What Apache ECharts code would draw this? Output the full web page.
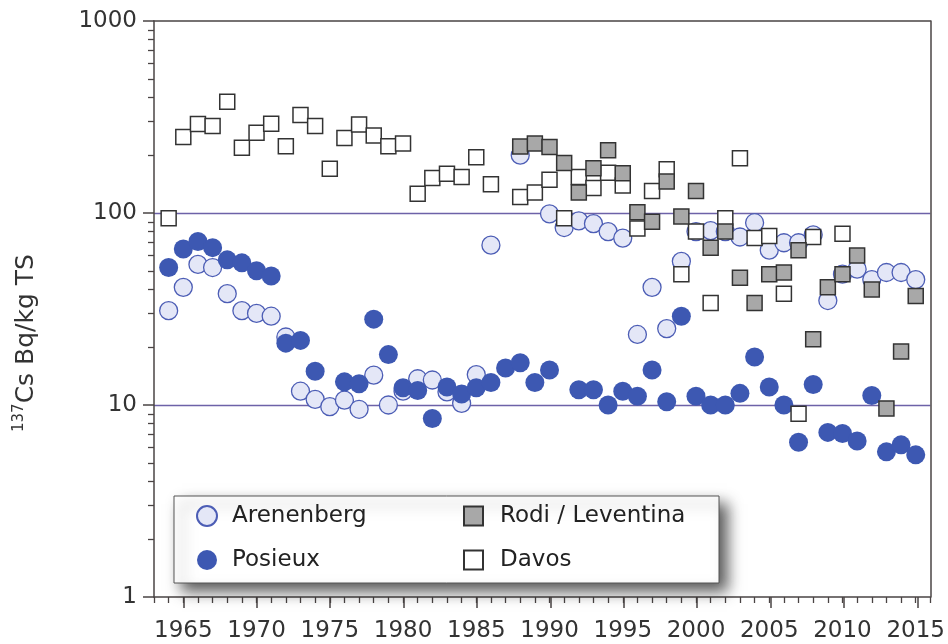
<!DOCTYPE html>
<html><head><meta charset="utf-8">
<script src="https://cdn.jsdelivr.net/npm/echarts@6/dist/echarts.min.js"></script>
<style>html,body{margin:0;padding:0;background:#fff}#c{width:948px;height:644px}</style>
</head><body><div id="c"></div>
<script>
// ---- data ----
const arenenbergYears = [1964,1965,1966,1967,1968,1969,1970,1971,1972,1973,1974,1975,1976,1977,1978,1979,1980,1981,1982,1983,1984,1985,1986,1988,1990,1991,1992,1993,1994,1995,1996,1997,1998,1999,2000,2001,2002,2003,2004,2005,2006,2007,2008,2009,2010,2011,2012,2013,2014,2015];
const arenenbergValues = [31,41,54,52,38,31,30,29,22.6,11.8,10.7,9.8,10.6,9.5,14.3,10.0,11.8,13.7,13.5,11.7,10.2,14.4,68,200,99,84,91,88,80,74,23.3,41,25,56,80,81,80,75,89,64,70,70,77,35,48,51,45,49,49,45];

const posieuxYears = [1964,1965,1966,1967,1968,1969,1970,1971,1972,1973,1974,1976,1977,1978,1979,1980,1981,1982,1983,1984,1985,1986,1987,1988,1989,1990,1992,1993,1994,1995,1996,1997,1998,1999,2000,2001,2002,2003,2004,2005,2006,2007,2008,2009,2010,2011,2012,2013,2014,2015];
const posieuxValues = [52,65,71,66,57,55,50,47,21,21.7,15,13.2,12.9,28,18.3,12.3,11.9,8.5,12.4,11.4,12.3,13.1,15.6,16.6,13.1,15.2,12.0,12.0,10.0,11.8,11.1,15.2,10.4,29,11.1,10.0,10.0,11.5,17.8,12.4,10.0,6.4,12.8,7.2,7.1,6.5,11.2,5.7,6.2,5.5];

const davosYears = [1964,1965,1966,1967,1968,1969,1970,1971,1972,1973,1974,1975,1976,1977,1978,1979,1980,1981,1982,1983,1984,1985,1986,1988,1989,1990,1991,1992,1993,1994,1995,1996,1997,1998,1999,2000,2001,2002,2003,2004,2005,2006,2007,2008,2010];
const davosValues = [94,249,291,284,380,219,262,292,223,324,284,170,246,289,253,223,230,126,152,160,154,195,141,121,128,149,94,154,135,162,139,83,130,169,48,80,34,94,193,74,76,38,9.0,75,78];

const rodiYears = [1988,1989,1990,1991,1992,1993,1994,1995,1996,1997,1998,1999,2000,2001,2002,2003,2004,2005,2006,2007,2008,2009,2010,2011,2012,2013,2014,2015];
const rodiValues = [222,230,221,182,128,171,212,161,101,90,146,96,130,66,80,46,34,48,49,64,22,41,48,60,40,9.6,19,37];

const majorYears = [1965,1970,1975,1980,1985,1990,1995,2000,2005,2010,2015];
const allYears = []; for (let y = 1963; y <= 2016; y++) allYears.push(y);
const minorLogTicks = []; [1,10,100].forEach(d => { for (let k = 2; k <= 9; k++) minorLogTicks.push(Math.log10(k * d)); });

const FONT = 'DejaVu Sans';
const AX = '#4a4444';
const pairs = (xs, vs) => xs.map((x, i) => [x, vs[i]]);
const plain = v => String(Math.round(v));

const chart = echarts.init(document.getElementById('c'), null, {renderer: 'canvas'});
chart.setOption({
  animation: false,
  backgroundColor: '#fff',
  grid: [
    {left: 154, right: 16, top: 21, bottom: 47},
    {left: 154, right: 16, top: 21, bottom: 47}
  ],
  xAxis: [
    {type: 'value', gridIndex: 0, min: 1963, max: 2016, position: 'bottom',
     axisLine: {lineStyle: {color: AX, width: 1.5}},
     axisTick: {customValues: allYears, length: 6, lineStyle: {color: AX, width: 1.3}},
     axisLabel: {customValues: majorYears, formatter: plain, fontSize: 23, fontFamily: FONT, color: '#333', margin: 23},
     splitLine: {show: false}},
    {type: 'value', gridIndex: 1, min: 1963, max: 2016, position: 'bottom',
     axisLine: {show: false},
     axisTick: {customValues: majorYears, length: 11, lineStyle: {color: AX, width: 1.5}},
     axisLabel: {show: false}, splitLine: {show: false}},
    {type: 'value', gridIndex: 0, min: 1963, max: 2016, position: 'top',
     axisLine: {lineStyle: {color: AX, width: 1.5}},
     axisTick: {show: false}, axisLabel: {show: false}, splitLine: {show: false}}
  ],
  yAxis: [
    {type: 'log', logBase: 10, gridIndex: 0, min: 1, max: 1000, position: 'left',
     axisLine: {show: true, lineStyle: {color: AX, width: 1.5}},
     axisTick: {show: true, length: 11, lineStyle: {color: AX, width: 1.5}},
     axisLabel: {formatter: plain, fontSize: 23, fontFamily: FONT, color: '#333', margin: 17},
     splitLine: {show: true, showMinLine: false, showMaxLine: false, lineStyle: {color: '#6d62a8', width: 1.3}},
     minorTick: {show: false}},
    {type: 'value', gridIndex: 1, min: 0, max: 3, position: 'left',
     axisLine: {show: false},
     axisTick: {show: true, customValues: minorLogTicks, length: 6, lineStyle: {color: AX, width: 1.3}},
     axisLabel: {show: false}, splitLine: {show: false}},
    {type: 'value', gridIndex: 0, min: 0, max: 1, position: 'right',
     axisLine: {show: true, lineStyle: {color: AX, width: 1.5}},
     axisTick: {show: false}, axisLabel: {show: false}, splitLine: {show: false}}
  ],
  legend: [
    {data: ['Arenenberg', 'Posieux'], orient: 'vertical', left: 196, top: 504, padding: 0,
     itemWidth: 20, itemHeight: 20, itemGap: 20, selectedMode: false,
     textStyle: {fontSize: 23, fontFamily: FONT, color: '#222', lineHeight: 24, padding: [0, 0, 0, 10]}},
    {data: ['Rodi / Leventina', 'Davos'], orient: 'vertical', left: 463, top: 504, padding: 0,
     itemWidth: 19, itemHeight: 19, itemGap: 20, selectedMode: false,
     textStyle: {fontSize: 23, fontFamily: FONT, color: '#222', lineHeight: 24, padding: [0, 0, 0, 12]}}
  ],
  graphic: [
    {type: 'rect', z: 3, shape: {x: 174, y: 496, width: 545, height: 87},
     style: {fill: '#fff', stroke: '#555', lineWidth: 1, shadowBlur: 14, shadowOffsetX: 8, shadowOffsetY: 8, shadowColor: 'rgba(0,0,0,0.65)'}},
    {type: 'text', z: 5, x: 26, y: 343, rotation: Math.PI / 2,
     style: {text: '{s|137}Cs Bq/kg TS', fontSize: 25, fontFamily: FONT, fill: '#333', align: 'center', verticalAlign: 'middle', lineHeight: 29,
             rich: {s: {fontSize: 15, fontFamily: FONT, fill: '#333', verticalAlign: 'top', lineHeight: 15}}}}
  ],
  series: [
    {name: 'Arenenberg', type: 'scatter', data: pairs(arenenbergYears, arenenbergValues), symbol: 'circle', symbolSize: 18, z: 2,
     itemStyle: {color: '#e4e7f7', borderColor: '#4c5db5', borderWidth: 1.3, opacity: 1}},
    {name: 'Posieux', type: 'scatter', data: pairs(posieuxYears, posieuxValues), symbol: 'circle', symbolSize: 19, z: 2,
     itemStyle: {color: '#3d58b2', opacity: 1}},
    {name: 'Davos', type: 'scatter', data: pairs(davosYears, davosValues), symbol: 'rect', symbolSize: 15, z: 2,
     itemStyle: {color: '#ffffff', borderColor: '#333', borderWidth: 1.5, opacity: 1}},
    {name: 'Rodi / Leventina', type: 'scatter', data: pairs(rodiYears, rodiValues), symbol: 'rect', symbolSize: 15, z: 2,
     itemStyle: {color: '#a8a8a8', borderColor: '#333', borderWidth: 1.5, opacity: 1}}
  ]
});
</script>
</body></html>
